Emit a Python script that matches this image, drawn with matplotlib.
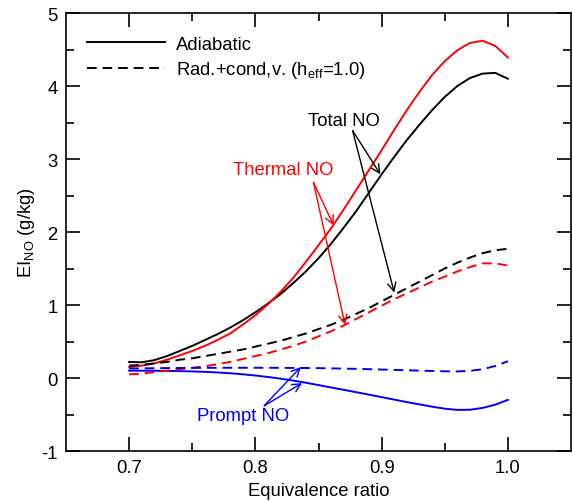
import numpy as np
import matplotlib
matplotlib.use("Agg")
import matplotlib.pyplot as plt
from matplotlib.ticker import MultipleLocator, FixedLocator

plt.rcParams['font.family'] = ['Liberation Sans', 'DejaVu Sans']
plt.rcParams['mathtext.default'] = 'regular'
plt.rcParams['axes.unicode_minus'] = False
fs = 13.3
plt.rcParams['font.size'] = fs

# equivalence ratio, 0.70 ... 1.00
phi = np.linspace(0.70, 1.00, 31)

# adiabatic (solid)
total_adia = [0.220, 0.215, 0.245, 0.30, 0.37, 0.44, 0.52, 0.60, 0.69, 0.79,
              0.90, 1.02, 1.15, 1.30, 1.46, 1.64, 1.84, 2.06, 2.29, 2.54,
              2.79, 3.03, 3.26, 3.47, 3.67, 3.85, 4.00, 4.11, 4.17, 4.18,
              4.10]
thermal_adia = [0.15, 0.17, 0.20, 0.25, 0.31, 0.37, 0.44, 0.52, 0.61, 0.73,
                0.86, 1.01, 1.18, 1.37, 1.59, 1.82, 2.05, 2.31, 2.58, 2.85,
                3.12, 3.40, 3.67, 3.92, 4.15, 4.34, 4.49, 4.59, 4.62, 4.55,
                4.39]
prompt_adia = [0.100, 0.100, 0.099, 0.097, 0.094, 0.090, 0.084, 0.076, 0.065, 0.051,
               0.034, 0.014, -0.009, -0.035, -0.065, -0.097, -0.130, -0.162, -0.195, -0.228,
               -0.262, -0.296, -0.330, -0.362, -0.393, -0.420, -0.437, -0.435, -0.410, -0.365,
               -0.300]

# rad.+cond,v. (dashed)
total_rad = [0.17, 0.18, 0.20, 0.22, 0.25, 0.27, 0.30, 0.33, 0.36, 0.39,
             0.43, 0.47, 0.51, 0.56, 0.61, 0.67, 0.73, 0.80, 0.88, 0.96,
             1.05, 1.14, 1.23, 1.32, 1.41, 1.50, 1.58, 1.65, 1.71, 1.75,
             1.77]
thermal_rad = [0.05, 0.06, 0.08, 0.10, 0.12, 0.14, 0.16, 0.19, 0.22, 0.26,
               0.30, 0.34, 0.39, 0.44, 0.50, 0.57, 0.64, 0.72, 0.81, 0.90,
               0.99, 1.08, 1.16, 1.24, 1.32, 1.39, 1.46, 1.52, 1.57, 1.57,
               1.54]
prompt_rad = [0.130, 0.132, 0.134, 0.136, 0.137, 0.138, 0.139, 0.140, 0.140, 0.140,
              0.140, 0.140, 0.139, 0.138, 0.137, 0.135, 0.132, 0.129, 0.125, 0.121,
              0.116, 0.111, 0.106, 0.101, 0.096, 0.092, 0.090, 0.098, 0.120, 0.165,
              0.230]

fig = plt.figure(figsize=(5.73, 5.02), dpi=100)
ax = fig.add_axes([0.1152, 0.0996, 0.8813, 0.8725])

lw = 1.4
dash = (5, 3)
ax.plot(phi, total_adia, color='black', lw=lw, label='Adiabatic')
ax.plot(phi, thermal_adia, color='red', lw=lw)
ax.plot(phi, prompt_adia, color='blue', lw=lw)
ax.plot(phi, total_rad, color='black', lw=lw, dashes=dash,
        label=r'Rad.+cond,v. (h$_\mathregular{eff}$=1.0)')
ax.plot(phi, thermal_rad, color='red', lw=lw, dashes=dash)
ax.plot(phi, prompt_rad, color='blue', lw=lw, dashes=dash)

ax.set_xlim(0.65, 1.05)
ax.set_ylim(-1, 5)
ax.xaxis.set_major_locator(FixedLocator([0.7, 0.8, 0.9, 1.0]))
ax.xaxis.set_minor_locator(FixedLocator([0.75, 0.85, 0.95]))
ax.yaxis.set_major_locator(MultipleLocator(1))
ax.yaxis.set_minor_locator(MultipleLocator(0.5))
ax.set_xticklabels(['0.7', '0.8', '0.9', '1.0'])
ax.tick_params(which='both', direction='in', top=True, right=True, width=1.2)
ax.tick_params(which='major', length=10, labelsize=fs, pad=6)
ax.tick_params(which='minor', length=6)
for s in ax.spines.values():
    s.set_linewidth(1.2)

ax.set_xlabel('Equivalence ratio', fontsize=fs, labelpad=4)
ax.set_ylabel(r'EI$_\mathregular{NO}$ (g/kg)', fontsize=fs, labelpad=3)

ax.legend(loc='upper left', frameon=False, handlelength=4.2, handletextpad=0.6,
          labelspacing=0.35, fontsize=fs, borderpad=0, borderaxespad=0,
          bbox_to_anchor=(0.042, 0.948))

def note(text, xy_text, start, ends, color):
    ax.text(xy_text[0], xy_text[1], text, color=color, ha='center', va='center', fontsize=fs)
    for e in ends:
        ax.annotate('', xy=e, xytext=start,
                    arrowprops=dict(arrowstyle='->', color=color, lw=1.0,
                                    mutation_scale=15, shrinkA=0, shrinkB=0))

note('Total NO', (0.870, 3.53), (0.877, 3.39), [(0.899, 2.79), (0.910, 1.17)], 'black')
note('Thermal NO', (0.822, 2.86), (0.846, 2.68), [(0.862, 2.09), (0.871, 0.73)], 'red')
note('Prompt NO', (0.790, -0.52), (0.807, -0.38), [(0.836, 0.15), (0.837, -0.07)], 'blue')

fig.savefig('out.png', dpi=100)
